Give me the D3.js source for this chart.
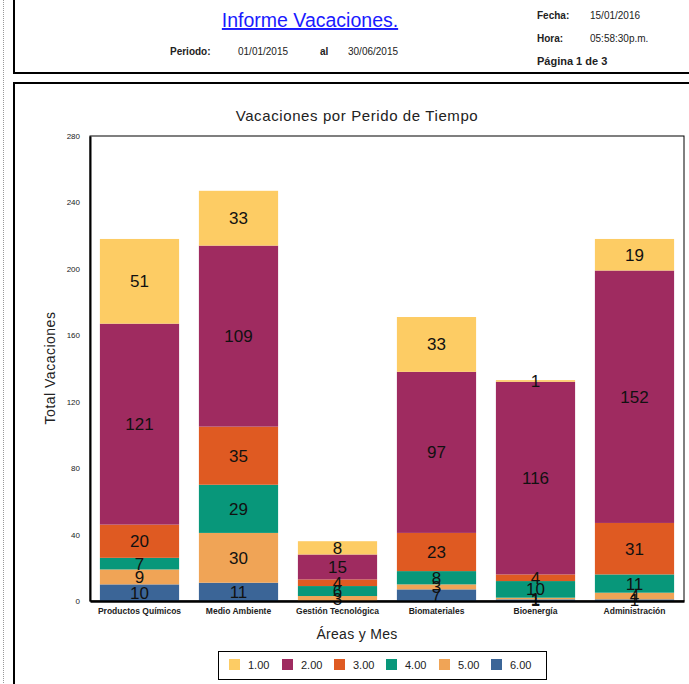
<!DOCTYPE html>
<html><head><meta charset="utf-8">
<script src="https://cdn.jsdelivr.net/npm/d3@7"></script>
<style>body{margin:0;background:#fff;font-family:Arial,"Liberation Sans",sans-serif}</style>
</head><body><svg id="c" width="689" height="684"></svg>
<script>
const categories = ["Productos Químicos","Medio Ambiente","Gestión Tecnológica","Biomateriales","Bioenergía","Administración"];
const seriesNames = ["1.00","2.00","3.00","4.00","5.00","6.00"];
const s1 = [51,33,8,33,1,19];
const s2 = [121,109,15,97,116,152];
const s3 = [20,35,4,23,4,31];
const s4 = [7,29,6,8,10,11];
const s5 = [9,30,3,3,1,4];
const s6 = [10,11,0,7,1,1];
const yTicks = [0,40,80,120,160,200,240,280];
const colors = ["#fdcc64","#9f2b60","#df5a22","#08977a","#f0a456","#3b6597"];

const svg = d3.select("#c");
// page frame
svg.append("line").attr("x1",3.5).attr("x2",3.5).attr("y1",0).attr("y2",684).attr("stroke","#999").attr("stroke-dasharray","1,1");
svg.append("path").attr("d","M14,0V73H689").attr("fill","none").attr("stroke","#000").attr("stroke-width",2);
svg.append("path").attr("d","M14,684V83H689").attr("fill","none").attr("stroke","#000").attr("stroke-width",2);

// header
svg.append("text").attr("x",310).attr("y",27).attr("text-anchor","middle").attr("font-size",19.5).attr("fill","#1a1aff").attr("text-decoration","underline").text("Informe Vacaciones.");
const hdr = [["Periodo:",170,55,true],["01/01/2015",238,55,false],["al",320,55,true],["30/06/2015",348,55,false],
 ["Fecha:",537,19,true],["15/01/2016",590,19,false],["Hora:",537,42,true],["05:58:30p.m.",590,42,false]];
hdr.forEach(h=>svg.append("text").attr("x",h[1]).attr("y",h[2]).attr("font-size",10).attr("font-weight",h[3]?"bold":"normal").attr("fill","#222").text(h[0]));
svg.append("text").attr("x",537).attr("y",65).attr("font-size",11).attr("font-weight","bold").attr("fill","#222").text("Página 1 de 3");

// chart
const m = {l:90,r:684,t:136,b:601};
const x = d3.scaleBand().domain(categories).range([m.l,m.r]).paddingInner(0.2).paddingOuter(0.1);
const y = d3.scaleLinear().domain([0,280]).range([m.b,m.t]);
const seriesArr = [s6,s5,s4,s3,s2,s1];
const seriesColors = [colors[5],colors[4],colors[3],colors[2],colors[1],colors[0]];
const rows = categories.map((c,i)=>{const o={cat:c};seriesArr.forEach((s,j)=>o["k"+j]=s[i]);return o;});
const stack = d3.stack().keys(seriesArr.map((s,j)=>"k"+j))(rows);

svg.append("rect").attr("x",m.l).attr("y",m.t).attr("width",m.r-m.l).attr("height",m.b-m.t).attr("fill","none").attr("stroke","#000").attr("stroke-width",1);

stack.forEach((layer,j)=>{
  svg.append("g").selectAll("rect").data(layer).join("rect")
    .attr("x",d=>x(d.data.cat)).attr("width",x.bandwidth())
    .attr("y",d=>y(d[1])).attr("height",d=>y(d[0])-y(d[1]))
    .attr("fill",seriesColors[j]);
});
stack.forEach((layer,j)=>{
  svg.append("g").selectAll("text").data(layer.filter(d=>d[1]-d[0]>0)).join("text")
    .attr("x",d=>x(d.data.cat)+x.bandwidth()/2).attr("y",d=>(y(d[0])+y(d[1]))/2+6)
    .attr("text-anchor","middle").attr("font-size",17).attr("fill","#111")
    .text(d=>d[1]-d[0]);
});

const ya = svg.append("g").attr("transform",`translate(${m.l},0)`).call(d3.axisLeft(y).tickValues(yTicks).tickSize(0).tickPadding(10));
ya.select(".domain").attr("stroke","#000").attr("stroke-width",2);
ya.selectAll("text").attr("font-size",8).attr("fill","#222").attr("font-family","Arial,sans-serif");
const xa = svg.append("g").attr("transform",`translate(0,${m.b})`).call(d3.axisBottom(x).tickSize(0).tickPadding(7));
xa.select(".domain").attr("stroke","#000").attr("stroke-width",2.5);
xa.selectAll("text").attr("font-size",8.5).attr("fill","#222").attr("font-family","Arial,sans-serif").attr("font-weight","bold");

svg.append("text").attr("x",357).attr("y",121).attr("text-anchor","middle").attr("font-size",15).attr("letter-spacing",0.6).attr("fill","#222").text("Vacaciones por Perido de Tiempo");
svg.append("text").attr("x",357).attr("y",639).attr("text-anchor","middle").attr("font-size",14).attr("letter-spacing",0.3).attr("fill","#222").text("Áreas y Mes");
svg.append("text").attr("transform","translate(55,368) rotate(-90)").attr("text-anchor","middle").attr("font-size",14).attr("letter-spacing",0.5).attr("fill","#222").text("Total Vacaciones");

// legend
svg.append("rect").attr("x",218.5).attr("y",651.5).attr("width",328).attr("height",28).attr("fill","#fff").attr("stroke","#000");
const lx = [229,282,334,386,439,491];
seriesNames.forEach((n,i)=>{
  svg.append("rect").attr("x",lx[i]).attr("y",659).attr("width",11).attr("height",11).attr("fill",colors[i]);
  svg.append("text").attr("x",lx[i]+19).attr("y",669).attr("font-size",11).attr("fill","#222").text(n);
});
</script></body></html>
